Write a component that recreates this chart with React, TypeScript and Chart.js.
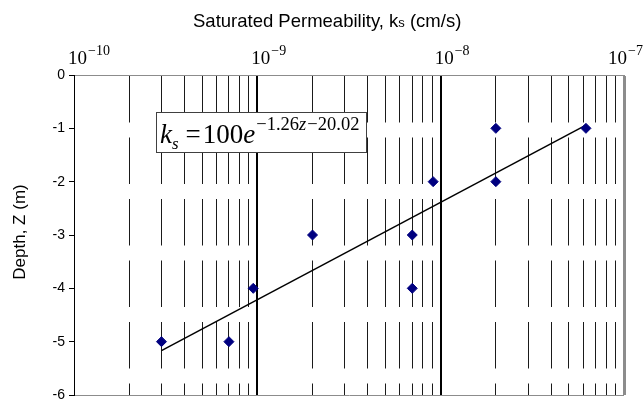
import React, { useEffect, useRef } from "react";
import { Chart, registerables } from "chart.js";

Chart.register(...registerables);

// Measured depth (m) and saturated permeability (cm/s) pairs
const depthZ = [-1, -1, -2, -2, -3, -3, -4, -4, -5, -5];
const permeabilityKs = [2.0e-8, 6.2e-8, 9.1e-9, 2.0e-8, 2.0e-9, 7.0e-9, 9.5e-10, 7.0e-9, 3.0e-10, 7.0e-10];

// Axis ticks
const depthTicks = [0, -1, -2, -3, -4, -5, -6];
const decadeExponents = [-10, -9, -8, -7];
const mantissas = [1, 2, 3, 4, 5, 6, 7, 8, 9];

// Text
const xTitleParts = ["Saturated Permeability, k", "s", " (cm/s)"];
const yTitle = "Depth, Z (m)";
const equationText = { k: "k", sub: "s", eq: "=", coef: "100", e: "e", exp1: "\u22121.26", expVar: "z", exp2: "\u221220.02" };

const SANS = '"Liberation Sans", Arial, sans-serif';
const SERIF = '"Liberation Serif", "Times New Roman", serif';

// log-scale tick positions: 1..9 x 10^e for each decade, plus the last decade
const xTickValues: number[] = [];
decadeExponents.slice(0, -1).forEach((e) => mantissas.forEach((m) => xTickValues.push(Number(`${m}e${e}`))));
xTickValues.push(Number(`1e${decadeExponents[decadeExponents.length - 1]}`));

// least-squares fit of depth against log10(ks), drawn across the data range
function trendPoints() {
  const lx = permeabilityKs.map((k) => Math.log10(k));
  const n = lx.length;
  const mx = lx.reduce((s, v) => s + v, 0) / n;
  const mz = depthZ.reduce((s, v) => s + v, 0) / n;
  let sxz = 0;
  let sxx = 0;
  for (let i = 0; i < n; i++) {
    sxz += (lx[i] - mx) * (depthZ[i] - mz);
    sxx += (lx[i] - mx) * (lx[i] - mx);
  }
  const slope = sxz / sxx;
  const intercept = mz - slope * mx;
  const kMin = Math.min(...permeabilityKs);
  const kMax = Math.max(...permeabilityKs);
  return [kMin, kMax].map((k) => ({ x: k, y: slope * Math.log10(k) + intercept }));
}

function decadeOf(v: number): number | null {
  const e = Math.log10(v);
  return Math.abs(e - Math.round(e)) < 1e-9 ? Math.round(e) : null;
}

const textPlugin = {
  id: "chartText",
  afterDraw(chart: any) {
    const { ctx, chartArea, scales, width } = chart;
    const xs = scales.x;
    ctx.save();
    ctx.fillStyle = "#000";
    ctx.textBaseline = "alphabetic";
    ctx.textAlign = "left";

    // top title with the small "s" of ks
    const bigFont = `18.5px ${SANS}`;
    const smallFont = `13px ${SANS}`;
    ctx.font = bigFont;
    const w0 = ctx.measureText(xTitleParts[0]).width;
    ctx.font = smallFont;
    const w1 = ctx.measureText(xTitleParts[1]).width;
    let tx = 193;
    const ty = 27;
    ctx.font = bigFont;
    ctx.fillText(xTitleParts[0], tx, ty);
    tx += w0;
    ctx.font = smallFont;
    ctx.fillText(xTitleParts[1], tx, ty);
    tx += w1;
    ctx.font = bigFont;
    ctx.fillText(xTitleParts[2], tx, ty);

    // decade labels 10^e, the last one kept inside the canvas
    decadeExponents.forEach((e) => {
      const px = xs.getPixelForValue(Number(`1e${e}`));
      const base = "10";
      const sup = `\u2212${Math.abs(e)}`;
      ctx.font = `19px ${SERIF}`;
      const bw = ctx.measureText(base).width;
      ctx.font = `14px ${SERIF}`;
      const sw = ctx.measureText(sup).width;
      const x0 = Math.min(px - 6, width - 1 - (bw + 1 + sw));
      ctx.font = `19px ${SERIF}`;
      ctx.fillText(base, x0, 64);
      ctx.font = `14px ${SERIF}`;
      ctx.fillText(sup, x0 + bw + 1, 55);
    });

    // y title
    ctx.save();
    ctx.translate(20, (chartArea.top + chartArea.bottom) / 2 - 3);
    ctx.rotate(-Math.PI / 2);
    ctx.textAlign = "center";
    ctx.textBaseline = "middle";
    ctx.font = `17px ${SANS}`;
    ctx.fillText(yTitle, 0, 0);
    ctx.restore();

    // fitted-equation box
    const bx = 156, by = 112, bw = 210, bh = 40;
    ctx.fillStyle = "#fff";
    ctx.fillRect(bx, by, bw, bh);
    ctx.strokeStyle = "#404040";
    ctx.lineWidth = 1;
    ctx.strokeRect(bx + 0.5, by + 0.5, bw, bh);
    ctx.fillStyle = "#000";
    const base = 143;
    const runs: [string, string, number, number][] = [
      [equationText.k, `italic 27px ${SERIF}`, 0, 0],
      [equationText.sub, `italic 17px ${SERIF}`, 6, 0],
      [equationText.eq, `27px ${SERIF}`, 0, 7],
      [equationText.coef, `27px ${SERIF}`, 0, 2],
      [equationText.e, `italic 27px ${SERIF}`, 0, 0],
      [equationText.exp1, `18.5px ${SERIF}`, -13, 1],
      [equationText.expVar, `italic 18.5px ${SERIF}`, -13, 0],
      [equationText.exp2, `18.5px ${SERIF}`, -13, 1],
    ];
    let ex = 160;
    runs.forEach(([t, f, dy, gap]) => {
      ex += gap;
      ctx.font = f;
      ctx.fillText(t, ex, base + dy);
      ex += ctx.measureText(t).width;
    });
    ctx.restore();
  },
};

export default function App() {
  const canvasRef = useRef<HTMLCanvasElement | null>(null);

  useEffect(() => {
    document.body.style.margin = "0";
    const canvas = canvasRef.current;
    if (!canvas) return;

    const points = permeabilityKs.map((k, i) => ({ x: k, y: depthZ[i] }));

    const chart = new Chart(canvas, {
      type: "scatter",
      data: {
        datasets: [
          {
            type: "line",
            data: trendPoints(),
            borderColor: "#000",
            borderWidth: 1.5,
            pointRadius: 0,
            fill: false,
            order: 2,
          } as any,
          {
            data: points,
            pointStyle: "rectRot",
            pointRadius: 5,
            backgroundColor: "#000080",
            borderColor: "#000080",
            borderWidth: 1,
            order: 1,
          },
        ],
      },
      options: {
        animation: false,
        responsive: true,
        maintainAspectRatio: false,
        layout: { padding: { left: 0, top: 0, right: 20, bottom: 6 } },
        plugins: { legend: { display: false }, tooltip: { enabled: false } },
        scales: {
          x: {
            type: "logarithmic",
            position: "top",
            min: 1e-10,
            max: 1e-7,
            afterBuildTicks: (s: any) => {
              s.ticks = xTickValues.map((v) => ({ value: v }));
            },
            afterFit: (s: any) => {
              s.height = 75;
              s.paddingLeft = 0;
              s.paddingRight = 0;
            },
            ticks: { display: false },
            grid: {
              drawTicks: false,
              color: (c: any) => {
                const v = c.tick?.value;
                if (v == null) return "#000";
                const d = decadeOf(v);
                if (d === null) return "#1a1a1a";
                return d === decadeExponents[decadeExponents.length - 1] ? "#8c8c8c" : "#000";
              },
              lineWidth: (c: any) => {
                const v = c.tick?.value;
                if (v == null) return 1;
                const d = decadeOf(v);
                if (d === null || d === decadeExponents[0]) return 1;
                return d === decadeExponents[decadeExponents.length - 1] ? 3 : 2;
              },
            },
            border: {
              color: "#8c8c8c",
              width: 1,
              dash: (c: any) => {
                const v = c.tick?.value;
                if (v == null) return [];
                return decadeOf(v) === null ? [46.5, 15] : [];
              },
            },
          } as any,
          y: {
            type: "linear",
            min: -6,
            max: 0,
            afterBuildTicks: (s: any) => {
              s.ticks = depthTicks.map((v) => ({ value: v }));
            },
            afterFit: (s: any) => {
              s.width = 74;
              s.paddingTop = 0;
              s.paddingBottom = 0;
            },
            ticks: {
              color: "#000",
              padding: 4,
              font: { family: SANS, size: 14 },
              callback: (v: any) => String(v),
            },
            grid: {
              color: (c: any) => {
                const v = c.tick?.value;
                return v === depthTicks[0] || v === depthTicks[depthTicks.length - 1] ? "#8c8c8c" : "rgba(0,0,0,0)";
              },
              tickColor: "#000",
              tickLength: 5,
              lineWidth: 1,
            },
            border: { color: "#000", width: 1 },
          } as any,
        },
      },
      plugins: [textPlugin],
    });

    return () => chart.destroy();
  }, []);

  return (
    <div style={{ position: "relative", width: 644, height: 401 }}>
      <canvas ref={canvasRef} />
    </div>
  );
}
